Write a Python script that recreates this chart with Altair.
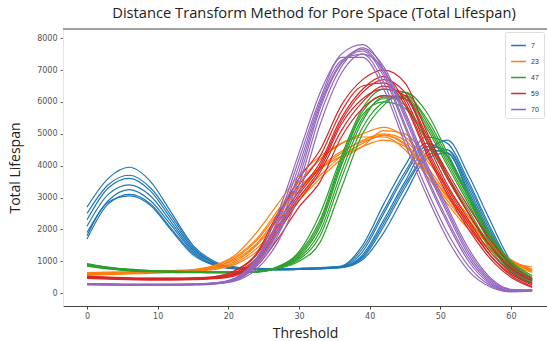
import altair as alt
import pandas as pd

x_vals = [0, 3, 6, 9, 12, 15, 18, 21, 24, 27, 30, 33, 36, 39, 42, 45, 48, 51, 54, 57, 60, 63]

groups = ["7", "23", "47", "59", "70"]
colors = ["#1f77b4", "#ff7f0e", "#2ca02c", "#d62728", "#9467bd"]

blue_curves = [
    [2700, 3600, 3950, 3500, 2500, 1500, 1000, 820, 780, 770, 780, 800, 850, 1500, 2800, 4000, 4900, 4700, 3500, 2100, 900, 400],
    [2300, 3300, 3600, 3200, 2300, 1400, 950, 800, 770, 760, 770, 790, 830, 1300, 2500, 3700, 4600, 4500, 3300, 1900, 800, 380],
    [2100, 3100, 3400, 3050, 2200, 1350, 930, 790, 760, 750, 760, 780, 820, 1200, 2300, 3500, 4500, 4400, 3200, 1800, 750, 350],
    [1900, 2900, 3250, 2900, 2100, 1300, 900, 780, 750, 740, 750, 770, 810, 1100, 2100, 3300, 4300, 4500, 3400, 2000, 850, 420],
    [1700, 2800, 3100, 2800, 2000, 1250, 880, 770, 740, 730, 740, 760, 800, 1050, 1900, 3100, 4200, 4400, 3100, 1700, 700, 330],
    [2500, 3400, 3700, 3300, 2400, 1450, 960, 810, 770, 760, 770, 790, 840, 1400, 2600, 3800, 4700, 4300, 3000, 1600, 650, 300],
    [1800, 2850, 3050, 2750, 1950, 1200, 870, 760, 740, 730, 745, 765, 805, 1150, 2200, 3400, 4400, 4800, 3700, 2300, 1000, 450],
]
orange_curves = [
    [620, 640, 650, 670, 690, 720, 850, 1150, 1700, 2600, 3500, 4200, 4700, 5000, 5200, 4900, 4200, 3300, 2400, 1600, 1050, 750],
    [580, 600, 620, 640, 660, 690, 780, 1000, 1500, 2300, 3200, 3900, 4400, 4800, 5000, 4800, 4000, 3100, 2200, 1500, 1000, 700],
    [600, 620, 640, 660, 680, 700, 800, 1100, 1650, 2500, 3300, 3900, 4300, 4600, 4800, 4600, 3800, 2900, 2100, 1400, 950, 680],
    [560, 580, 600, 620, 640, 670, 740, 900, 1300, 2000, 2900, 3600, 4200, 4600, 5100, 5000, 4300, 3300, 2400, 1600, 1050, 720],
    [640, 660, 670, 690, 710, 740, 870, 1200, 1900, 2800, 3700, 4300, 4700, 4900, 4900, 4500, 3700, 2800, 2000, 1350, 900, 650],
    [590, 610, 630, 650, 670, 700, 770, 950, 1400, 2100, 3000, 3700, 4300, 4700, 4950, 4700, 3900, 3000, 2250, 1550, 1000, 720],
    [610, 630, 640, 660, 680, 710, 820, 1050, 1550, 2400, 3300, 3950, 4450, 4750, 4950, 4650, 3850, 3050, 2300, 1500, 980, 820],
]
green_curves = [
    [930, 820, 750, 710, 690, 680, 670, 670, 690, 830, 1300, 2500, 4300, 5800, 6400, 6300, 5400, 4200, 3000, 1800, 950, 500],
    [880, 780, 720, 690, 670, 660, 650, 650, 670, 800, 1150, 2100, 4000, 5500, 6100, 6100, 5200, 4000, 2800, 1600, 800, 420],
    [850, 760, 700, 670, 650, 640, 640, 640, 660, 780, 1050, 1800, 3600, 5200, 6000, 6200, 5500, 4300, 3000, 1800, 900, 480],
    [900, 800, 730, 700, 680, 670, 660, 660, 680, 820, 1250, 2300, 4200, 5700, 6200, 5900, 4900, 3700, 2600, 1500, 700, 350],
    [860, 770, 710, 680, 660, 650, 640, 640, 660, 770, 1000, 1600, 3300, 5000, 5900, 6300, 5700, 4400, 3100, 1900, 1000, 550],
    [910, 800, 740, 700, 680, 670, 660, 660, 680, 810, 1200, 2200, 4100, 5600, 6000, 5800, 4800, 3600, 2500, 1400, 650, 300],
    [870, 775, 715, 685, 665, 655, 645, 645, 665, 790, 1100, 1950, 3800, 5400, 6150, 6150, 5300, 4100, 2900, 1700, 850, 450],
]
red_curves = [
    [520, 490, 470, 460, 460, 470, 510, 700, 1200, 2400, 3600, 4500, 5900, 6700, 7000, 6600, 5100, 3700, 2500, 1500, 750, 400],
    [500, 470, 450, 440, 440, 450, 480, 620, 1050, 2100, 3100, 4000, 5400, 6300, 6700, 6300, 4800, 3400, 2300, 1300, 650, 300],
    [480, 460, 440, 430, 430, 440, 470, 580, 950, 1900, 2900, 3800, 5100, 6000, 6500, 6100, 4600, 3300, 2200, 1200, 600, 250],
    [510, 480, 460, 450, 450, 460, 490, 650, 1100, 2200, 3200, 4100, 5500, 6400, 6800, 6000, 4500, 3200, 2100, 1200, 550, 200],
    [460, 440, 420, 410, 410, 420, 450, 550, 850, 1700, 2700, 3500, 4900, 5800, 6200, 6100, 4900, 3600, 2500, 1500, 800, 400],
    [530, 500, 480, 470, 470, 480, 520, 720, 1250, 2500, 3400, 4300, 5700, 6500, 6600, 5900, 4400, 3100, 2000, 1100, 500, 180],
    [490, 465, 445, 435, 435, 445, 475, 600, 1000, 2000, 3000, 3900, 5300, 6100, 6400, 6200, 5000, 3800, 2700, 1700, 900, 450],
]
purple_curves = [
    [300, 290, 280, 280, 280, 290, 320, 480, 1100, 2500, 4400, 6300, 7500, 7800, 7000, 5500, 3900, 2500, 1200, 400, 80, 100],
    [280, 270, 260, 260, 260, 270, 300, 420, 900, 1900, 3600, 5800, 7200, 7600, 6800, 5200, 3600, 2200, 1000, 300, 60, 90],
    [260, 250, 245, 245, 245, 255, 280, 380, 750, 1600, 3100, 5300, 6900, 7500, 7000, 5600, 4000, 2600, 1300, 450, 100, 80],
    [290, 280, 270, 270, 270, 280, 310, 450, 1000, 2200, 4000, 6000, 7300, 7500, 6600, 4900, 3300, 1900, 850, 250, 50, 70],
    [270, 260, 250, 250, 250, 260, 290, 400, 850, 1800, 3400, 5600, 7100, 7700, 7100, 5700, 4100, 2700, 1400, 500, 120, 100],
    [300, 285, 275, 275, 275, 285, 315, 460, 1050, 2300, 4200, 6100, 7400, 7400, 6400, 4700, 3100, 1700, 700, 200, 40, 60],
    [285, 275, 265, 265, 265, 275, 305, 430, 950, 2000, 3800, 5900, 7250, 7650, 6900, 5300, 3700, 2300, 1100, 350, 70, 90],
]

all_groups = [blue_curves, orange_curves, green_curves, red_curves, purple_curves]

rows = []
for g, curves in zip(groups, all_groups):
    for i, c in enumerate(curves):
        for xv, yv in zip(x_vals, c):
            rows.append({"group": g, "curve": f"{g}_{i}", "Threshold": xv, "Total Lifespan": yv})
df = pd.DataFrame(rows)

W, H = 484, 277

lines = alt.Chart(df).mark_line(strokeWidth=1.2, interpolate="monotone").encode(
    x=alt.X("Threshold:Q",
            scale=alt.Scale(domain=[-3.4, 65.1], nice=False, zero=False),
            axis=alt.Axis(values=[0, 10, 20, 30, 40, 50, 60], title="Threshold",
                          grid=False, domainColor="#444", tickColor="#444", tickSize=3,
                          labelFontSize=8, labelColor="#555", labelFont="DejaVu Sans",
                          titleFontSize=14, titleFont="Open Sans", titleFontWeight="normal",
                          titleColor="#222", titlePadding=6, labelPadding=3)),
    y=alt.Y("Total Lifespan:Q",
            scale=alt.Scale(domain=[-405, 8290], nice=False, zero=False),
            axis=alt.Axis(values=[0, 1000, 2000, 3000, 4000, 5000, 6000, 7000, 8000],
                          format="d",
                          title="Total Lifespan", grid=False, domainColor="#e4e4e4",
                          tickColor="#666", tickSize=3, labelFontSize=8, labelColor="#555",
                          labelFont="DejaVu Sans", titleFontSize=14, titleFont="Open Sans",
                          titleFontWeight="normal", titleColor="#222", titlePadding=14,
                          labelPadding=3)),
    color=alt.Color("group:N", sort=groups,
                    scale=alt.Scale(domain=groups, range=colors),
                    legend=alt.Legend(title=None, orient="top-right", offset=3,
                                      symbolType="stroke", symbolSize=220,
                                      symbolStrokeWidth=1.5, labelFontSize=7,
                                      labelColor="#333", fillColor="white",
                                      strokeColor="#ddd", padding=5, rowPadding=4,
                                      cornerRadius=2)),
    detail="curve:N",
)

frame = pd.DataFrame({"a": [0]})
top_line = alt.Chart(frame).mark_rule(color="#444", strokeWidth=1).encode(
    x=alt.value(0), x2=alt.value(W), y=alt.value(0)
)

chart = alt.layer(lines, top_line).properties(
    width=W, height=H,
    title=alt.TitleParams("Distance Transform Method for Pore Space (Total Lifespan)",
                          fontSize=14.7, font="Open Sans", fontWeight="normal",
                          color="#222", anchor="middle", offset=8, dx=9),
    autosize=alt.AutoSizeParams(type="none"),
    padding={"left": 63, "top": 29, "right": 0, "bottom": 35},
).configure_view(stroke=None)

chart.save("out.html", embed_options={"renderer": "svg", "actions": False})
